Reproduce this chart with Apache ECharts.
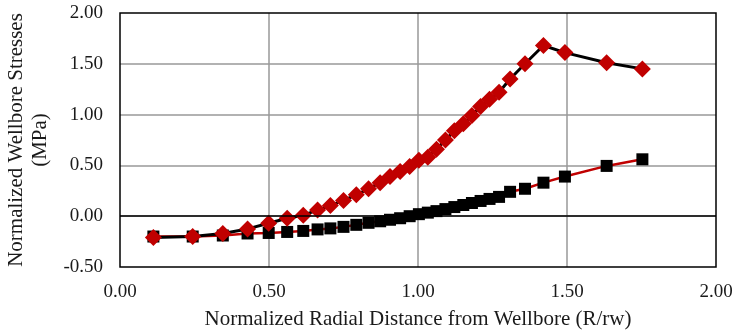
<!DOCTYPE html>
<html><head><meta charset="utf-8">
<script src="https://cdn.jsdelivr.net/npm/echarts@6/dist/echarts.min.js"></script>
<style>html,body{margin:0;padding:0;background:#fff}#c{width:738px;height:336px}</style>
</head><body><div id="c"></div>
<script>
const xValues = [0.112,0.244,0.345,0.428,0.499,0.561,0.615,0.663,0.706,0.75,0.793,0.834,0.873,0.906,0.94,0.972,1.003,1.033,1.062,1.092,1.122,1.152,1.181,1.21,1.24,1.272,1.309,1.359,1.421,1.493,1.633,1.753];
const diamondValues = [-0.21,-0.20,-0.17,-0.125,-0.07,-0.02,0.01,0.06,0.105,0.155,0.21,0.27,0.33,0.39,0.44,0.49,0.55,0.58,0.66,0.75,0.84,0.91,0.99,1.08,1.15,1.22,1.35,1.50,1.68,1.61,1.51,1.45];
const squareValues = [-0.20,-0.20,-0.19,-0.17,-0.165,-0.155,-0.145,-0.13,-0.12,-0.105,-0.085,-0.065,-0.05,-0.035,-0.02,0.0,0.02,0.035,0.05,0.07,0.09,0.11,0.13,0.15,0.17,0.19,0.24,0.27,0.33,0.39,0.495,0.56];
const xTitle = 'Normalized Radial Distance from Wellbore (R/rw)';
const yTitle = 'Normalized Wellbore Stresses\n(MPa)';

const font = 'Liberation Serif, Times New Roman, serif';
const chart = echarts.init(document.getElementById('c'));
chart.setOption({
  animation: false,
  backgroundColor: '#fff',
  grid: {left: 120, right: 22, top: 13, bottom: 69, containLabel: false, outerBoundsMode: 'none',
    show: true, borderColor: '#000', borderWidth: 1.5, z: 5},
  xAxis: {
    type: 'value', min: 0, max: 2, interval: 0.5,
    name: xTitle, nameLocation: 'middle', nameGap: 42,
    nameTextStyle: {fontFamily: font, fontSize: 21, color: '#1a1a1a'},
    axisLine: {show: false}, axisTick: {show: false},
    axisLabel: {fontFamily: font, fontSize: 19, color: '#1a1a1a', margin: 16, formatter: v => v.toFixed(2)},
    splitLine: {show: true, showMinLine: false, showMaxLine: false, lineStyle: {color: '#999', width: 1.5}}
  },
  yAxis: {
    type: 'value', min: -0.5, max: 2, interval: 0.5,
    name: yTitle, nameLocation: 'middle', nameGap: 60, nameRotate: 90,
    nameTextStyle: {fontFamily: font, fontSize: 21, color: '#1a1a1a', lineHeight: 24},
    axisLine: {show: false}, axisTick: {show: false},
    axisLabel: {fontFamily: font, fontSize: 19, color: '#1a1a1a', margin: 17, formatter: v => v.toFixed(2)},
    splitLine: {show: true, showMinLine: false, showMaxLine: false, lineStyle: {color: '#999', width: 1.5}}
  },
  series: [
    {
      type: 'line', data: xValues.map((x, i) => [x, squareValues[i]]),
      symbol: 'rect', symbolSize: 12,
      itemStyle: {color: '#000'},
      lineStyle: {color: '#c00000', width: 2.5},
      z: 3,
      markLine: {silent: true, symbol: 'none', label: {show: false},
        lineStyle: {color: '#000', width: 1.5, type: 'solid'}, data: [{yAxis: 0}]}
    },
    {
      type: 'line', data: xValues.map((x, i) => [x, diamondValues[i]]),
      symbol: 'diamond', symbolSize: 17,
      itemStyle: {color: '#c00000'},
      lineStyle: {color: '#000', width: 3},
      z: 4
    }
  ]
});
</script></body></html>
